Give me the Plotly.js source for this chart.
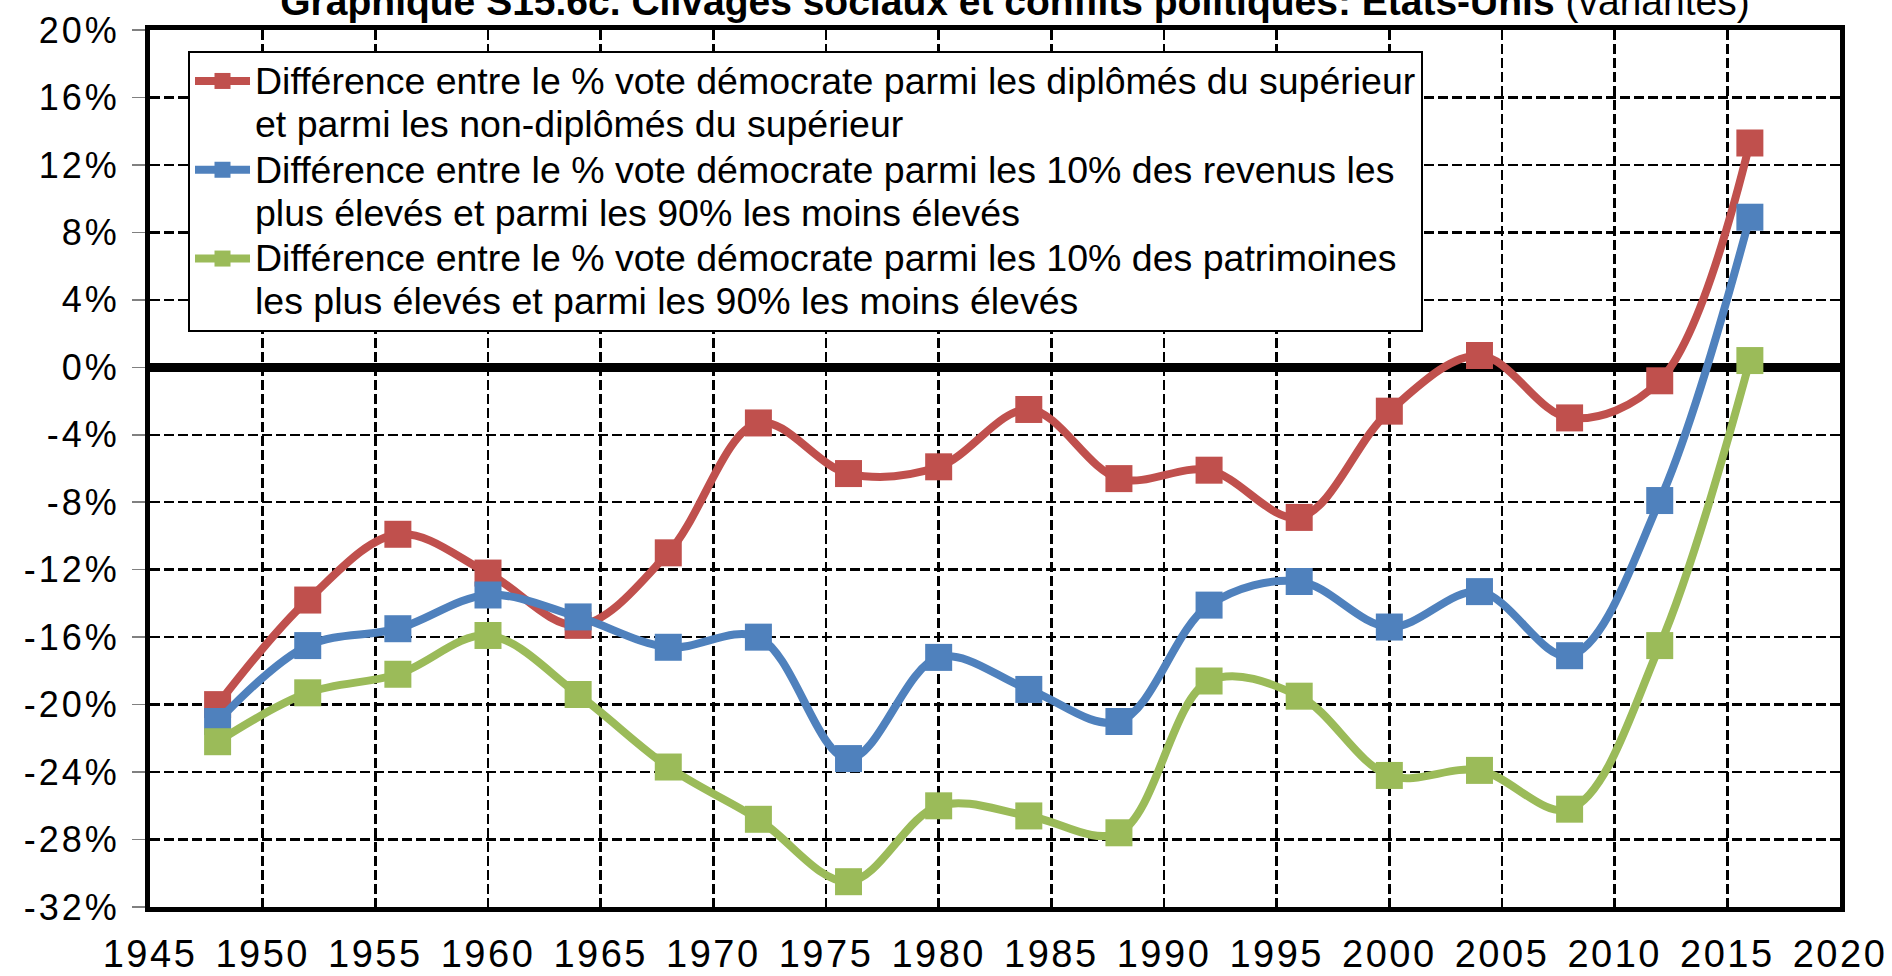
<!DOCTYPE html>
<html>
<head>
<meta charset="utf-8">
<script src="https://cdn.plot.ly/plotly-3.0.1.min.js"></script>
<style>
html,body{margin:0;padding:0;background:#ffffff;}
.xtick text{letter-spacing:2.5px;}
.ytick text{letter-spacing:3px;}
</style>
</head>
<body>
<div id="chart" style="width:1892px;height:976px;"></div>
<script>
const years = [1948, 1952, 1956, 1960, 1964, 1968, 1972, 1976, 1980, 1984, 1988, 1992, 1996, 2000, 2004, 2008, 2012, 2016];
const diplomes    = [-20.0, -13.8, -9.9, -12.2, -15.3, -11.0, -3.3, -6.3, -5.9, -2.5, -6.6, -6.1, -8.9, -2.6, 0.7, -3.0, -0.8, 13.3];
const revenus     = [-21.0, -16.5, -15.5, -13.5, -14.8, -16.6, -16.0, -23.2, -17.2, -19.1, -21.0, -14.1, -12.7, -15.4, -13.3, -17.1, -7.9, 8.9];
const patrimoines = [-22.2, -19.3, -18.2, -15.9, -19.4, -23.7, -26.8, -30.5, -26.0, -26.6, -27.6, -18.6, -19.5, -24.2, -23.9, -26.2, -16.5, 0.4];

const seriesNames = [
  "Différence entre le % vote démocrate parmi les diplômés du supérieur<br>et parmi les non-diplômés du supérieur",
  "Différence entre le % vote démocrate parmi les 10% des revenus les<br>plus élevés et parmi les 90% les moins élevés",
  "Différence entre le % vote démocrate parmi les 10% des patrimoines<br>les plus élevés et parmi les 90% les moins élevés"
];
const seriesColors = ["#C0504D", "#4F81BD", "#9BBB59"];

const xTickVals = [1945, 1950, 1955, 1960, 1965, 1970, 1975, 1980, 1985, 1990, 1995, 2000, 2005, 2010, 2015, 2020];
const xTickLabels = ["1945", "1950", "1955", "1960", "1965", "1970", "1975", "1980", "1985", "1990", "1995", "2000", "2005", "2010", "2015", "2020"];
const yTickVals = [-32, -28, -24, -20, -16, -12, -8, -4, 0, 4, 8, 12, 16, 20];
const yTickLabels = ["-32%", "-28%", "-24%", "-20%", "-16%", "-12%", "-8%", "-4%", "0%", "4%", "8%", "12%", "16%", "20%"];

const titleMain = "Graphique S15.6c. Clivages sociaux et conflits politiques: Etats-Unis";
const titleSub = "(variantes)";

const allSeries = [diplomes, revenus, patrimoines];
const traces = allSeries.map((vals, i) => ({
  type: "scatter",
  mode: "lines+markers",
  x: years,
  y: vals,
  name: seriesNames[i].split("<br>").map(s => "<span style=\"font-size:37.5px\">" + s + "</span>").join("<br>"),
  line: {color: seriesColors[i], width: 8, shape: "spline", smoothing: 1},
  marker: {symbol: "square", size: 27, color: seriesColors[i], line: {width: 0}},
  hoverinfo: "x+y"
}));

const FONT = "Liberation Sans, Arial, sans-serif";

const layout = {
  width: 1892,
  height: 976,
  paper_bgcolor: "#ffffff",
  plot_bgcolor: "#ffffff",
  margin: {l: 150, r: 52, t: 30, b: 69, pad: 0},
  showlegend: true,
  title: {
    text: "<b>" + titleMain + "</b> <span style=\"font-family:'Liberation Sans Narrow','Liberation Sans',Arial;font-weight:normal;\">" + titleSub + "</span>",
    font: {family: FONT, size: 39, color: "#000000"},
    xref: "container", yref: "container",
    x: 1015 / 1892, xanchor: "center",
    y: 1 - 15 / 976, yanchor: "bottom",
    automargin: false
  },
  xaxis: {
    range: [1945, 2020],
    tickmode: "array",
    tickvals: xTickVals,
    ticktext: xTickLabels,
    ticks: "",
    ticklabelstandoff: 9,
    tickfont: {family: FONT, size: 38, color: "#000000"},
    showgrid: true,
    gridcolor: "#000000",
    gridwidth: 2.5,
    griddash: "10px,4px",
    zeroline: false,
    showline: true,
    linecolor: "#000000",
    linewidth: 5,
    mirror: true,
    fixedrange: true
  },
  yaxis: {
    range: [-32, 20],
    tickmode: "array",
    tickvals: yTickVals,
    ticktext: yTickLabels,
    ticks: "outside",
    ticklen: 13,
    tickwidth: 1.5,
    tickcolor: "#808080",
    ticklabelstandoff: 5,
    tickfont: {family: FONT, size: 36, color: "#000000"},
    showgrid: true,
    gridcolor: "#000000",
    gridwidth: 2.5,
    griddash: "10px,4px",
    zeroline: true,
    zerolinecolor: "#000000",
    zerolinewidth: 9,
    showline: true,
    linecolor: "#000000",
    linewidth: 5,
    mirror: true,
    fixedrange: true
  },
  legend: {
    x: (188 - 150) / 1690,
    y: 1 - (51 - 30) / 877,
    xanchor: "left",
    yanchor: "top",
    bgcolor: "#ffffff",
    bordercolor: "#000000",
    borderwidth: 2,
    font: {family: FONT, size: 33, color: "#000000"},
    itemwidth: 55,
    valign: "top",
    tracegroupgap: 0
  }
};

Plotly.newPlot("chart", traces, layout, {staticPlot: true, displayModeBar: false});
</script>
</body>
</html>
